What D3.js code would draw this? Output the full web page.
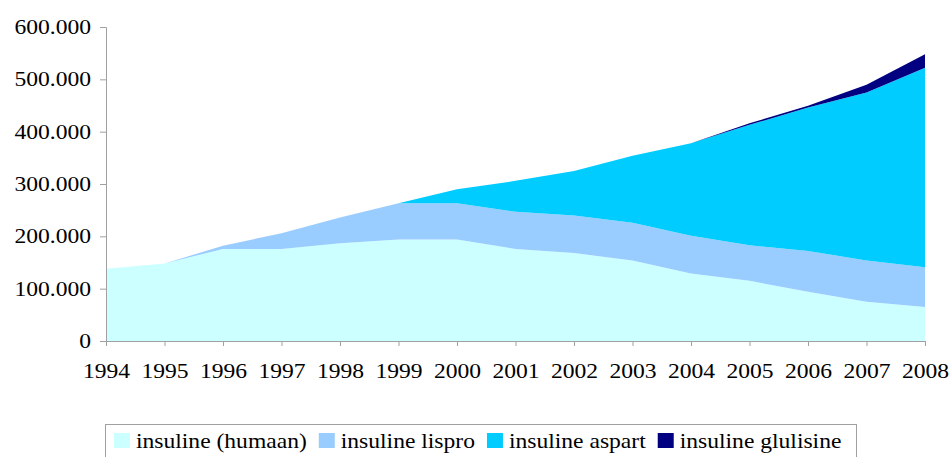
<!DOCTYPE html>
<html>
<head>
<meta charset="utf-8">
<script src="https://cdn.jsdelivr.net/npm/d3@7"></script>
<style>
  body { margin: 0; background: #fff; }
  text { font-family: "Liberation Serif", "Times New Roman", serif; fill: #000; }
</style>
</head>
<body>
<div id="chart"></div>
<script>
var years = [1994, 1995, 1996, 1997, 1998, 1999, 2000, 2001, 2002, 2003, 2004, 2005, 2006, 2007, 2008];
var humaan = [138000, 148000, 176000, 176000, 187000, 194000, 194000, 176000, 168000, 154000, 129000, 115000, 94000, 75000, 65000];
var lispro = [0, 0, 6000, 30000, 49000, 69000, 69000, 71000, 72000, 72000, 72000, 68000, 78000, 79000, 76000];
var aspart = [0, 0, 0, 0, 0, 0, 27000, 59000, 85000, 128000, 177000, 230000, 274000, 321000, 381000];
var glulisine = [0, 0, 0, 0, 0, 0, 0, 0, 0, 0, 0, 3000, 3500, 14500, 26000];
var seriesNames = ["insuline (humaan)", "insuline lispro", "insuline aspart", "insuline glulisine"];
var seriesColors = ["#ccffff", "#99ccff", "#00ccff", "#000080"];
var yTicks = [0, 100000, 200000, 300000, 400000, 500000, 600000];

var width = 949, height = 457;
var stretch = 1.15; // the text in the picture is a little wide
var axisColor = "#a0a0a0";

var svg = d3.select("#chart").append("svg")
  .attr("width", width).attr("height", height);

var x = d3.scaleLinear().domain([1994, 2008]).range([106, 925]);
var y = d3.scaleLinear().domain([0, 600000]).range([341, 27]);

var rows = years.map(function(yr, i) {
  return {year: yr, s0: humaan[i], s1: lispro[i], s2: aspart[i], s3: glulisine[i]};
});
var stack = d3.stack().keys(["s0", "s1", "s2", "s3"]);
var layers = stack(rows);

var area = d3.area()
  .x(function(d) { return x(d.data.year); })
  .y0(function(d) { return y(d[0]); })
  .y1(function(d) { return y(d[1]); });

svg.append("g")
  .selectAll("path")
  .data(layers)
  .enter().append("path")
  .attr("fill", function(d, i) { return seriesColors[i]; })
  .attr("d", area);

var loc = d3.formatLocale({decimal: ",", thousands: ".", grouping: [3], currency: ["", ""]});
var fmt = loc.format(",.0f");

var yAxis = svg.append("g")
  .attr("transform", "translate(106,0)")
  .call(d3.axisLeft(y).tickValues(yTicks).tickFormat(fmt).tickSize(6).tickPadding(9));

var xAxis = svg.append("g")
  .attr("transform", "translate(0,341)")
  .call(d3.axisBottom(x).tickValues(years).tickFormat(d3.format("d")).tickSize(5).tickPadding(17));

[yAxis, xAxis].forEach(function(ax) {
  ax.select(".domain").attr("stroke", axisColor);
  ax.selectAll(".tick line").attr("stroke", axisColor);
  ax.selectAll(".tick text")
    .attr("font-family", "Liberation Serif")
    .attr("font-size", 20.5)
    .attr("fill", "#000");
});
yAxis.selectAll(".tick text").each(function() {
  var t = d3.select(this);
  var xx = +t.attr("x");
  t.attr("x", null).attr("transform", "translate(" + xx + ",0) scale(" + stretch + ",1)");
});
xAxis.selectAll(".tick text").each(function() {
  var t = d3.select(this);
  var yy = +t.attr("y");
  t.attr("y", null).attr("transform", "translate(0," + yy + ") scale(" + stretch + ",1)");
});

// legend
var legend = svg.append("g");
legend.append("rect")
  .attr("x", 105.5).attr("y", 424.5)
  .attr("width", 751).attr("height", 45)
  .attr("fill", "none").attr("stroke", axisColor);

var lx = 114;
seriesNames.forEach(function(name, i) {
  legend.append("rect")
    .attr("x", lx).attr("y", 433)
    .attr("width", 16).attr("height", 15)
    .attr("fill", seriesColors[i]);
  var t = legend.append("text")
    .attr("font-size", 20.5)
    .attr("transform", "translate(" + (lx + 22) + ",448) scale(" + stretch + ",1)")
    .text(name);
  var w = t.node().getComputedTextLength() * stretch;
  lx = lx + 22 + w + 12;
});
</script>
</body>
</html>
